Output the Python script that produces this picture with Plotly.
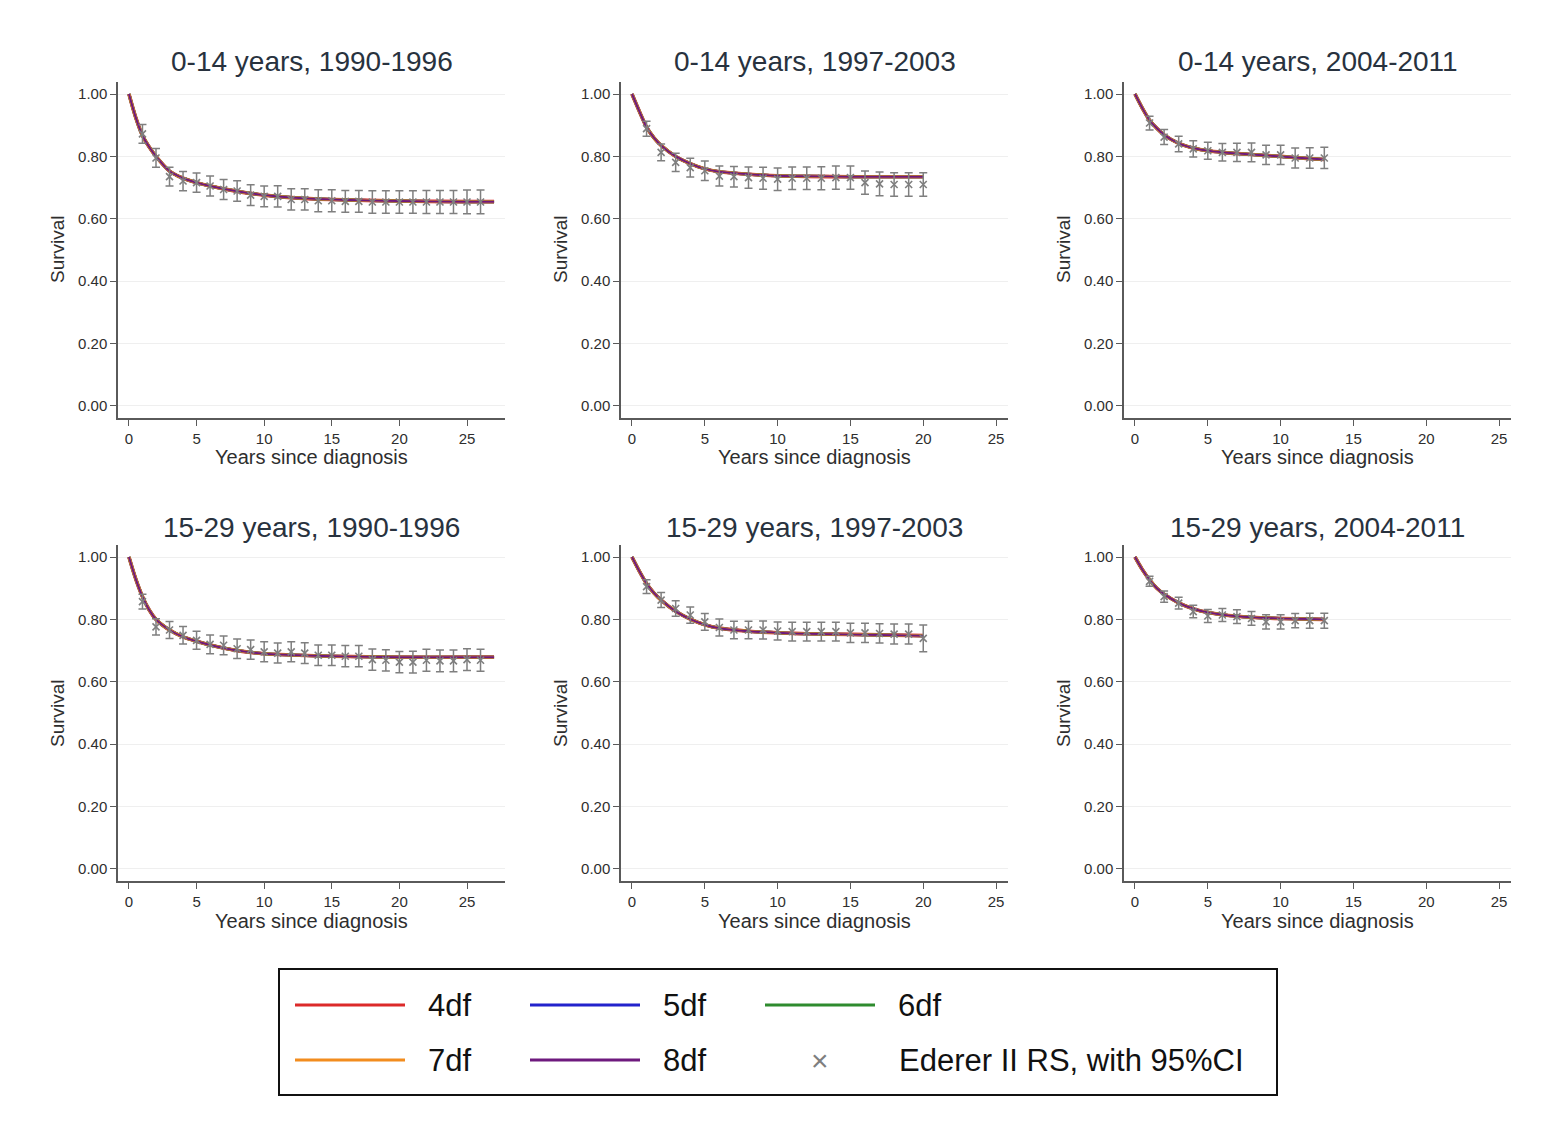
import plotly.graph_objects as go

W, H = 1557, 1136

# ---------------- data ----------------
panel_titles = [
    "0-14 years, 1990-1996", "0-14 years, 1997-2003", "0-14 years, 2004-2011",
    "15-29 years, 1990-1996", "15-29 years, 1997-2003", "15-29 years, 2004-2011",
]

# Ederer II relative survival estimates (yearly) and 95% CI half-widths
rs_years_p1 = list(range(1, 27))
rs_p1 = [0.872, 0.795, 0.735, 0.721, 0.716, 0.705, 0.694, 0.689, 0.676, 0.672,
         0.672, 0.662, 0.662, 0.658, 0.658, 0.656, 0.656, 0.654, 0.654, 0.654,
         0.654, 0.654, 0.654, 0.654, 0.654, 0.654]
ci_p1 = [0.030, 0.030, 0.030, 0.031, 0.031, 0.032, 0.032, 0.033, 0.033, 0.033,
         0.034, 0.034, 0.034, 0.035, 0.035, 0.035, 0.035, 0.036, 0.036, 0.036,
         0.036, 0.037, 0.037, 0.037, 0.038, 0.038]

rs_years_p2 = list(range(1, 21))
rs_p2 = [0.889, 0.813, 0.781, 0.764, 0.754, 0.737, 0.735, 0.732, 0.730, 0.727,
         0.730, 0.730, 0.730, 0.732, 0.732, 0.716, 0.712, 0.710, 0.710, 0.710]
ci_p2 = [0.024, 0.027, 0.029, 0.030, 0.031, 0.032, 0.033, 0.034, 0.035, 0.036,
         0.036, 0.036, 0.037, 0.037, 0.037, 0.037, 0.038, 0.038, 0.038, 0.038]

rs_years_p3 = list(range(1, 14))
rs_p3 = [0.907, 0.862, 0.840, 0.824, 0.818, 0.813, 0.813, 0.813, 0.805, 0.805,
         0.795, 0.795, 0.795]
ci_p3 = [0.022, 0.024, 0.025, 0.026, 0.027, 0.028, 0.029, 0.030, 0.031, 0.031,
         0.032, 0.033, 0.034]

rs_years_p4 = list(range(1, 27))
rs_p4 = [0.857, 0.776, 0.766, 0.749, 0.733, 0.720, 0.717, 0.706, 0.703, 0.696,
         0.692, 0.696, 0.692, 0.685, 0.685, 0.682, 0.682, 0.671, 0.669, 0.663,
         0.663, 0.669, 0.667, 0.667, 0.671, 0.669]
ci_p4 = [0.024, 0.026, 0.027, 0.028, 0.029, 0.030, 0.030, 0.031, 0.031, 0.032,
         0.032, 0.032, 0.033, 0.033, 0.033, 0.034, 0.034, 0.034, 0.034, 0.034,
         0.035, 0.035, 0.035, 0.035, 0.035, 0.035]

rs_years_p5 = list(range(1, 21))
rs_p5 = [0.905, 0.862, 0.835, 0.814, 0.792, 0.774, 0.766, 0.766, 0.766, 0.763,
         0.761, 0.761, 0.761, 0.761, 0.757, 0.757, 0.755, 0.753, 0.753, 0.739]
ci_p5 = [0.022, 0.024, 0.025, 0.026, 0.027, 0.027, 0.028, 0.028, 0.029, 0.029,
         0.030, 0.030, 0.030, 0.030, 0.031, 0.031, 0.031, 0.032, 0.032, 0.043]

rs_years_p6 = list(range(1, 14))
rs_p6 = [0.922, 0.873, 0.852, 0.825, 0.811, 0.814, 0.809, 0.803, 0.792, 0.792,
         0.796, 0.796, 0.796]
ci_p6 = [0.016, 0.018, 0.019, 0.020, 0.021, 0.021, 0.022, 0.022, 0.023, 0.023,
         0.023, 0.024, 0.024]

# Flexible parametric model fits (4-8 df give practically identical curves)
fit_t_p1 = [0, 0.5, 1, 1.5, 2, 3, 4, 5, 6, 8, 10, 12, 15, 20, 25, 27]
fit_p1 = [1.0, 0.925, 0.867, 0.830, 0.800, 0.753, 0.730, 0.716, 0.705, 0.688,
          0.676, 0.668, 0.662, 0.657, 0.655, 0.655]
fit_t_p2 = [0, 0.5, 1, 1.5, 2, 3, 4, 5, 6, 8, 10, 12, 15, 20]
fit_p2 = [1.0, 0.945, 0.894, 0.860, 0.835, 0.800, 0.777, 0.760, 0.751, 0.743,
          0.738, 0.736, 0.735, 0.735]
fit_t_p3 = [0, 0.5, 1, 1.5, 2, 3, 4, 5, 6, 8, 10, 12, 13]
fit_p3 = [1.0, 0.955, 0.916, 0.890, 0.869, 0.842, 0.827, 0.818, 0.813, 0.806,
          0.800, 0.793, 0.790]
fit_t_p4 = [0, 0.5, 1, 1.5, 2, 3, 4, 5, 6, 8, 10, 12, 15, 20, 25, 27]
fit_p4 = [1.0, 0.930, 0.873, 0.830, 0.800, 0.766, 0.744, 0.730, 0.718, 0.700,
          0.690, 0.686, 0.682, 0.679, 0.679, 0.679]
fit_t_p5 = [0, 0.5, 1, 1.5, 2, 3, 4, 5, 6, 8, 10, 12, 15, 20]
fit_p5 = [1.0, 0.955, 0.915, 0.885, 0.862, 0.826, 0.801, 0.783, 0.772, 0.762,
          0.757, 0.754, 0.752, 0.748]
fit_t_p6 = [0, 0.5, 1, 1.5, 2, 3, 4, 5, 6, 8, 10, 12, 13]
fit_p6 = [1.0, 0.960, 0.927, 0.900, 0.881, 0.853, 0.834, 0.822, 0.815, 0.807,
          0.803, 0.801, 0.800]

model_names = ["4df", "5df", "6df", "7df", "8df"]
model_colors = ["#dc2a2a", "#2323cc", "#2e8b2e", "#f28c1e", "#6e1a7e"]
model_widths = [3.6, 3.0, 3.0, 3.0, 2.0]

x_ticks = [0, 5, 10, 15, 20, 25]
y_ticks = [0, 0.2, 0.4, 0.6, 0.8, 1.0]

panels = [
    (rs_years_p1, rs_p1, ci_p1, fit_t_p1, fit_p1),
    (rs_years_p2, rs_p2, ci_p2, fit_t_p2, fit_p2),
    (rs_years_p3, rs_p3, ci_p3, fit_t_p3, fit_p3),
    (rs_years_p4, rs_p4, ci_p4, fit_t_p4, fit_p4),
    (rs_years_p5, rs_p5, ci_p5, fit_t_p5, fit_p5),
    (rs_years_p6, rs_p6, ci_p6, fit_t_p6, fit_p6),
]

# ---------------- layout helpers ----------------
FONT = "Arial, 'Liberation Sans', sans-serif"
TITLE_COL = "#28323e"
AXIS_COL = "#5a5a5a"
LABEL_COL = "#2e2e2e"
RS_COL = "#7f7f7f"


def px(x):
    return x / W


def py(y):
    return 1 - y / H


col_left = [118, 621, 1124]
col_width = 387
row_top = [82, 545]
row_bottom = [418, 881]
x_ranges = [[-0.81, 27.81], [-0.755, 25.82], [-0.755, 25.82]]
y_range = [-0.0385, 1.0385]

fig = go.Figure()
annotations = []
shapes = []

for i, (rx, ry, rci, ft, fv) in enumerate(panels):
    r, c = divmod(i, 3)
    n = i + 1
    xa = "x" if n == 1 else f"x{n}"
    ya = "y" if n == 1 else f"y{n}"

    for name, colr, lw in zip(model_names, model_colors, model_widths):
        fig.add_trace(go.Scatter(
            x=ft, y=fv, mode="lines", name=name, showlegend=False,
            line=dict(color=colr, width=lw, shape="spline", smoothing=0.8),
            xaxis=xa, yaxis=ya, hoverinfo="skip"))

    fig.add_trace(go.Scatter(
        x=rx, y=ry, mode="markers", name="Ederer II RS, with 95%CI",
        showlegend=False,
        marker=dict(symbol="x-thin-open", size=7, color=RS_COL,
                    line=dict(color=RS_COL, width=1.6)),
        error_y=dict(type="data", array=rci, symmetric=True, color=RS_COL,
                     thickness=1.5, width=4),
        xaxis=xa, yaxis=ya))

    x0 = col_left[c]
    x1 = x0 + col_width
    top, bot = row_top[r], row_bottom[r]
    axis_common = dict(showline=True, linecolor=AXIS_COL, linewidth=1.5,
                       ticks="outside", ticklen=6, tickwidth=1.2,
                       tickcolor=AXIS_COL, zeroline=False,
                       tickfont=dict(family=FONT, size=15, color=LABEL_COL))
    fig.layout[f"xaxis{'' if n == 1 else n}"] = dict(
        domain=[px(x0), px(x1)], range=x_ranges[c], anchor=ya,
        tickvals=x_ticks, showgrid=False, **axis_common)
    fig.layout[f"yaxis{'' if n == 1 else n}"] = dict(
        domain=[py(bot), py(top)], range=y_range, anchor=xa,
        tickvals=y_ticks, tickformat=".2f", showgrid=True,
        gridcolor="#efefef", gridwidth=1, **axis_common)

    mid = (x0 + x1) / 2
    annotations.append(dict(
        text=panel_titles[i], x=px(mid), y=py(62 + 465 * r), xref="paper",
        yref="paper", showarrow=False, xanchor="center", yanchor="middle",
        font=dict(family=FONT, size=28, color=TITLE_COL)))
    annotations.append(dict(
        text="Years since diagnosis", x=px(mid), y=py(457 + 464 * r),
        xref="paper", yref="paper", showarrow=False, xanchor="center",
        yanchor="middle", font=dict(family=FONT, size=20, color=LABEL_COL)))
    annotations.append(dict(
        text="Survival", x=px(x0 - 61), y=py(249 + 464 * r), xref="paper",
        yref="paper", showarrow=False, textangle=-90, xanchor="center",
        yanchor="middle", font=dict(family=FONT, size=19, color=LABEL_COL)))

# ---------------- legend box ----------------
shapes.append(dict(type="rect", xref="paper", yref="paper",
                   x0=px(279), x1=px(1277), y0=py(1095), y1=py(969),
                   line=dict(color="#111111", width=2), fillcolor="white"))

legend_slots = [(295, 1005), (530, 1005), (765, 1005), (295, 1060), (530, 1060)]
for (lx, ly), name, colr in zip(legend_slots, model_names, model_colors):
    shapes.append(dict(type="line", xref="paper", yref="paper",
                       x0=px(lx), x1=px(lx + 110), y0=py(ly), y1=py(ly),
                       line=dict(color=colr, width=3)))
    annotations.append(dict(text=name, x=px(lx + 131), y=py(ly), xref="paper",
                            yref="paper", showarrow=False, xanchor="left",
                            yanchor="middle",
                            font=dict(family=FONT, size=31, color="#111111")))

annotations.append(dict(text="\u00d7", x=px(820), y=py(1060), xref="paper",
                        yref="paper", showarrow=False, xanchor="center",
                        yanchor="middle",
                        font=dict(family=FONT, size=30, color=RS_COL)))
annotations.append(dict(text="Ederer II RS, with 95%CI", x=px(897), y=py(1060),
                        xref="paper", yref="paper", showarrow=False,
                        xanchor="left", yanchor="middle",
                        font=dict(family=FONT, size=31, color="#111111")))

fig.update_layout(
    width=W, height=H, margin=dict(l=0, r=0, t=0, b=0),
    paper_bgcolor="white", plot_bgcolor="white",
    showlegend=False, annotations=annotations, shapes=shapes,
    font=dict(family=FONT),
)

fig.write_html("out.html", config={"displayModeBar": False})
